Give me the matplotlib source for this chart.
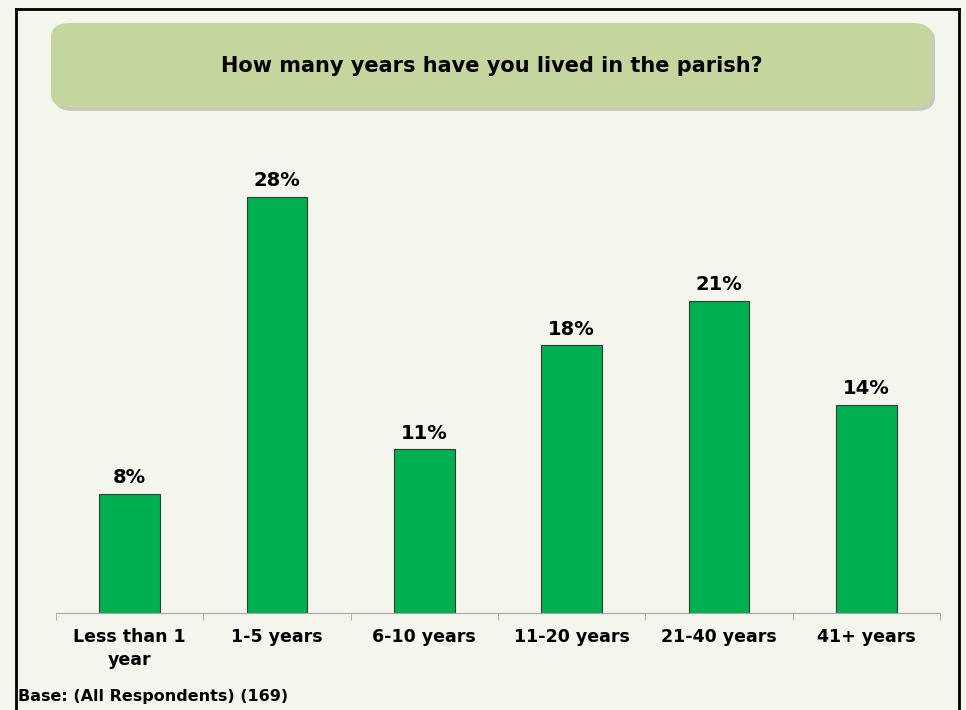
import matplotlib.pyplot as plt
import numpy as np
from matplotlib.patches import FancyBboxPatch

categories = ["Less than 1\nyear", "1-5 years", "6-10 years", "11-20 years", "21-40 years", "41+ years"]
values = [8, 28, 11, 18, 21, 14]
title = "How many years have you lived in the parish?"
base_note = "Base: (All Respondents) (169)"

W, H = 966, 710
bg = "#F4F6EE"
fig = plt.figure(figsize=(W / 100, H / 100), dpi=100, facecolor=bg)

# outer black frame (bottom runs off the image)
fig.add_artist(plt.Line2D([16 / W, 16 / W], [0, 1 - 9 / H], color="black", lw=2))
fig.add_artist(plt.Line2D([959 / W, 959 / W], [0, 1 - 9 / H], color="black", lw=2))
fig.add_artist(plt.Line2D([16 / W, 959 / W], [1 - 9 / H, 1 - 9 / H], color="black", lw=2))

# title box with shadow
bx, by, bw, bh = 51, 23, 881, 85
shadow = FancyBboxPatch(((bx + 3) / W, 1 - (by + bh + 3) / H), bw / W, bh / H,
                        boxstyle="round,pad=0,rounding_size=0.02", transform=fig.transFigure,
                        facecolor="#A9A9A2", edgecolor="none", alpha=0.6)
box = FancyBboxPatch((bx / W, 1 - (by + bh) / H), bw / W, bh / H,
                     boxstyle="round,pad=0,rounding_size=0.02", transform=fig.transFigure,
                     facecolor="#C4D69D", edgecolor="none")
fig.add_artist(shadow)
fig.add_artist(box)
fig.text((bx + bw / 2) / W, 1 - (by + bh / 2) / H, title, ha="center", va="center",
         fontsize=15, fontweight="bold", color="black")

ax = fig.add_axes([56 / W, (H - 613) / H, 884 / W, 446 / H])
ax.set_facecolor(bg)
x = np.arange(len(categories))
ax.bar(x, values, width=0.41, color="#00B050", edgecolor="#2E3B2E", linewidth=0.8)
for xi, v in zip(x, values):
    ax.text(xi, v + 0.45, f"{v}%", ha="center", va="bottom", fontsize=14, fontweight="bold")

ax.set_xlim(-0.5, len(categories) - 0.5)
ax.set_ylim(0, 30)
ax.set_yticks([])
for s in ["top", "right", "left"]:
    ax.spines[s].set_visible(False)
ax.spines["bottom"].set_color("#A6A6A6")
ax.set_xticks(x)
ax.set_xticklabels(categories, fontsize=12.5, fontweight="bold", linespacing=1.35,
                   multialignment="center")
ax.tick_params(axis="x", which="major", length=0, pad=11)
ax.set_xticks(np.arange(-0.5, len(categories)), minor=True)
ax.tick_params(axis="x", which="minor", length=5, color="#A6A6A6")

fig.text(18 / W, 1 - 697 / H, base_note, ha="left", va="center", fontsize=11.5, fontweight="bold")

fig.savefig("out.png", dpi=100, facecolor=bg)
